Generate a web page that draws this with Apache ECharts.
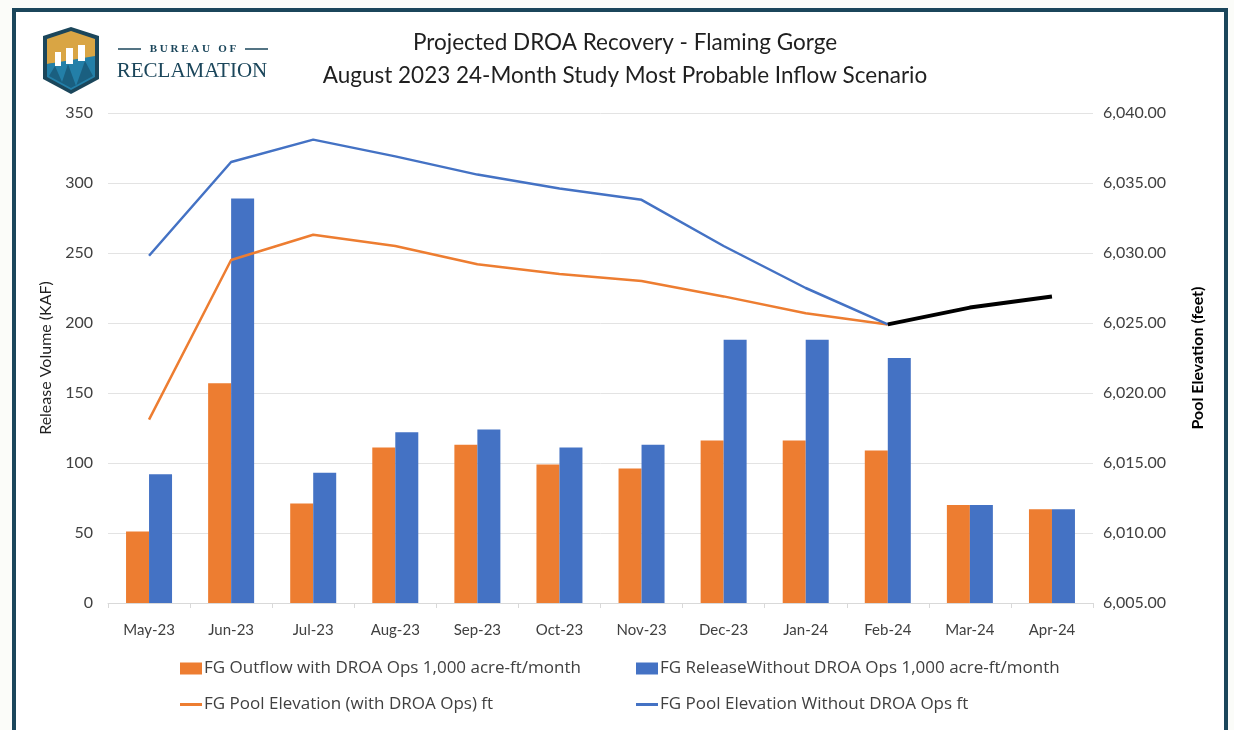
<!DOCTYPE html>
<html lang="en">
<head>
    <meta charset="UTF-8">
    <script src="https://cdn.jsdelivr.net/npm/echarts@6/dist/echarts.min.js"></script>
    <title>Projected DROA Recovery - Flaming Gorge</title>
    <style>
        html, body { margin: 0; padding: 0; background: #fbfcf9; }
        #chart { width: 1234px; height: 730px; }
    </style>
</head>
<body>
<div id="chart"></div>
<script type="text/javascript">
    // data
    var months = ['May-23', 'Jun-23', 'Jul-23', 'Aug-23', 'Sep-23', 'Oct-23', 'Nov-23', 'Dec-23', 'Jan-24', 'Feb-24', 'Mar-24', 'Apr-24'];
    var outflowWithDroa = [51, 157, 71, 111, 113, 99, 96, 116, 116, 109, 70, 67];
    var releaseWithoutDroa = [92, 289, 93, 122, 124, 111, 113, 188, 188, 175, 70, 67];
    var elevWithDroa = [6018.1, 6029.5, 6031.3, 6030.5, 6029.2, 6028.5, 6028.0, 6026.9, 6025.7, 6024.9, null, null];
    var elevWithoutDroa = [6029.8, 6036.5, 6038.1, 6036.9, 6035.6, 6034.6, 6033.8, 6030.5, 6027.5, 6024.9, null, null];
    var elevProjected = [null, null, null, null, null, null, null, null, null, 6024.9, 6026.1, 6026.9];

    var names = [
        'FG Outflow with DROA Ops 1,000 acre-ft/month',
        'FG ReleaseWithout DROA Ops 1,000 acre-ft/month',
        'FG Pool Elevation (with DROA Ops) ft',
        'FG Pool Elevation Without DROA Ops ft'
    ];

    var FONT = 'Lato';
    var ORANGE = '#ed7d31', BLUE = '#4472c4', FRAME = '#1b465b';

    var myChart = echarts.init(document.getElementById('chart'));

    function legendAt(name, left, top, isLine) {
        return {
            data: [name],
            left: left,
            top: top,
            icon: 'rect',
            itemWidth: 22,
            itemHeight: isLine ? 3 : 12,
            itemGap: 0,
            padding: 0,
            selectedMode: false,
            textStyle: { fontFamily: 'Open Sans', fontSize: 17, color: '#404040', padding: [0, 0, 0, -3] }
        };
    }

    var option = {
        animation: false,
        backgroundColor: '#fbfcf9',
        title: {
            text: 'Projected DROA Recovery - Flaming Gorge\nAugust 2023 24-Month Study Most Probable Inflow Scenario',
            left: 620,
            top: 21,
            textAlign: 'center',
            textStyle: {
                fontFamily: FONT,
                fontSize: 22.5,
                fontWeight: 'normal',
                color: '#1f1f1f',
                lineHeight: 33
            }
        },
        legend: [
            legendAt(names[0], 180, 660, false),
            legendAt(names[1], 636, 660, false),
            legendAt(names[2], 180, 696, true),
            legendAt(names[3], 636, 696, true)
        ],
        grid: { left: 108, right: 141, top: 113, bottom: 127 },
        xAxis: {
            type: 'category',
            data: months,
            axisLine: { lineStyle: { color: '#d9d9d9', width: 1 } },
            axisTick: { show: true, length: 5, lineStyle: { color: '#d9d9d9' } },
            axisLabel: { fontFamily: FONT, fontSize: 15, color: '#404040', margin: 20 }
        },
        yAxis: [
            {
                type: 'value',
                min: 0,
                max: 350,
                interval: 50,
                name: 'Release Volume (KAF)',
                nameLocation: 'middle',
                nameGap: 54,
                nameTextStyle: { fontFamily: FONT, fontSize: 16, color: '#1f1f1f' },
                axisLine: { show: false },
                axisTick: { show: false },
                splitLine: { lineStyle: { color: '#e3e3e3', width: 1 } },
                axisLabel: { fontFamily: FONT, fontSize: 16, color: '#404040', margin: 15 }
            },
            {
                type: 'value',
                min: 6005,
                max: 6040,
                interval: 5,
                name: 'Pool Elevation (feet)',
                nameLocation: 'middle',
                nameGap: 97,
                nameTextStyle: { fontFamily: FONT, fontSize: 16, fontWeight: 'bold', color: '#000' },
                axisLine: { show: false },
                axisTick: { show: false },
                splitLine: { show: false },
                axisLabel: {
                    fontFamily: FONT, fontSize: 16, color: '#404040', margin: 10,
                    formatter: function (v) {
                        return v.toLocaleString('en-US', { minimumFractionDigits: 2, maximumFractionDigits: 2 });
                    }
                }
            }
        ],
        series: [
            {
                name: names[0],
                type: 'bar',
                data: outflowWithDroa,
                barWidth: 23,
                barGap: '0%',
                itemStyle: { color: ORANGE }
            },
            {
                name: names[1],
                type: 'bar',
                data: releaseWithoutDroa,
                barWidth: 23,
                barGap: '0%',
                itemStyle: { color: BLUE }
            },
            {
                name: names[2],
                type: 'line',
                yAxisIndex: 1,
                data: elevWithDroa,
                showSymbol: false,
                z: 5,
                itemStyle: { color: ORANGE },
                lineStyle: { color: ORANGE, width: 2.5 }
            },
            {
                name: names[3],
                type: 'line',
                yAxisIndex: 1,
                data: elevWithoutDroa,
                showSymbol: false,
                z: 5,
                itemStyle: { color: BLUE },
                lineStyle: { color: BLUE, width: 2.5 }
            },
            {
                name: 'FG Pool Elevation Projected',
                type: 'line',
                yAxisIndex: 1,
                data: elevProjected,
                showSymbol: false,
                z: 6,
                itemStyle: { color: '#000' },
                lineStyle: { color: '#000', width: 4 }
            }
        ],
        graphic: [
            // frame
            {
                type: 'rect',
                shape: { x: 14, y: 10, width: 1212, height: 740 },
                style: { fill: '#fff', stroke: FRAME, lineWidth: 4 },
                z: -10
            },
            // logo shield
            {
                type: 'group',
                children: [
                    { type: 'polygon', shape: { points: [[43, 36], [71, 27], [99, 36], [99, 79], [71, 94], [43, 79]] }, style: { fill: FRAME } },
                    { type: 'polygon', shape: { points: [[47, 39], [71, 31], [95, 39], [95, 60], [47, 64]] }, style: { fill: '#d9a544' } },
                    { type: 'polygon', shape: { points: [[47, 64], [95, 56], [95, 77], [71, 90], [47, 77]] }, style: { fill: '#237fa8' } },
                    { type: 'rect', shape: { x: 55, y: 52, width: 6, height: 14 }, style: { fill: '#fff' } },
                    { type: 'rect', shape: { x: 66, y: 48, width: 7, height: 16 }, style: { fill: '#fff' } },
                    { type: 'rect', shape: { x: 78, y: 45, width: 7, height: 16 }, style: { fill: '#fff' } },
                    { type: 'polygon', shape: { points: [[49, 76], [55, 66], [62, 82], [68, 64], [76, 86], [85, 61], [93, 76], [71, 88]] }, style: { fill: '#1a5f80' } }
                ]
            },
            { type: 'line', shape: { x1: 118, y1: 49, x2: 141, y2: 49 }, style: { stroke: FRAME, lineWidth: 1.5 } },
            { type: 'line', shape: { x1: 245, y1: 49, x2: 268, y2: 49 }, style: { stroke: FRAME, lineWidth: 1.5 } },
            {
                type: 'text',
                style: { text: 'B U R E A U   O F', x: 193, y: 49, align: 'center', verticalAlign: 'middle', font: 'bold 11px "Liberation Serif"', fill: FRAME }
            },
            {
                type: 'text',
                style: { text: 'RECLAMATION', x: 192, y: 71, align: 'center', verticalAlign: 'middle', font: '21px "Liberation Serif"', fill: FRAME }
            }
        ]
    };
    myChart.setOption(option);
</script>
</body>
</html>
